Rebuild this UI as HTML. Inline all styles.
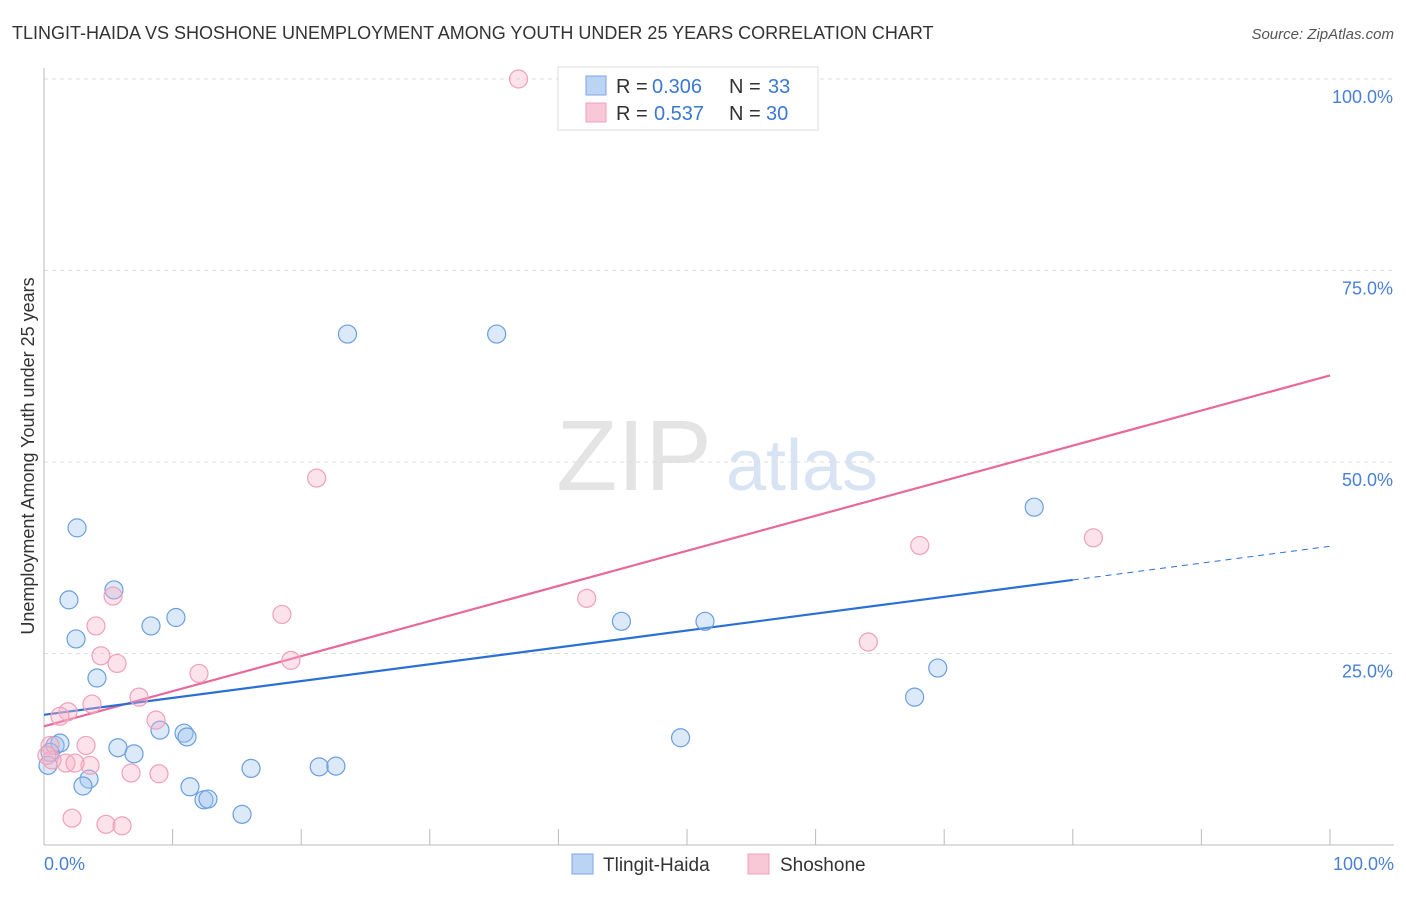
<!DOCTYPE html>
<html><head><meta charset="utf-8"><style>
body{margin:0;background:#fff;font-family:"Liberation Sans",sans-serif}
svg text{font-family:"Liberation Sans",sans-serif}
</style></head><body>
<svg id="chart" width="1406" height="892" viewBox="0 0 1406 892" xmlns="http://www.w3.org/2000/svg">
<text x="12" y="39" font-size="18" fill="#333">TLINGIT-HAIDA VS SHOSHONE UNEMPLOYMENT AMONG YOUTH UNDER 25 YEARS CORRELATION CHART</text>
<text x="1394" y="39" font-size="15" fill="#555" text-anchor="end" font-style="italic">Source: ZipAtlas.com</text>
<g>
<text x="634" y="490" font-size="100" fill="#e4e4e4" text-anchor="middle" font-family="Liberation Serif, serif">ZIP</text>
<text x="802" y="490" font-size="72" fill="#d8e4f4" text-anchor="middle">atlas</text>
</g>
<g id="grid"></g>
<g id="axes"></g>
<g id="trend"></g>
<g id="points"></g>
<text transform="translate(34,456) rotate(-90)" font-size="18" fill="#333" text-anchor="middle">Unemployment Among Youth under 25 years</text>
<text x="44" y="870" font-size="18" fill="#4a7fd6">0.0%</text>
<text x="1394" y="870" font-size="18" fill="#4a7fd6" text-anchor="end">100.0%</text>
<g>
<rect x="558" y="67" width="260" height="63" fill="#fff" stroke="#ddd"/>
<rect x="586" y="76" width="20" height="19" fill="#bcd4f4" stroke="#7aa6e0"/>
<rect x="586" y="103" width="20" height="19" fill="#f9c8d6" stroke="#f0a0b8"/>
<text x="616" y="93" font-size="20" fill="#333">R =</text>
<text x="652" y="93" font-size="20" fill="#3a78d4">0.306</text>
<text x="729" y="93" font-size="20" fill="#333">N =</text>
<text x="768" y="93" font-size="20" fill="#3a78d4">33</text>
<text x="616" y="120" font-size="20" fill="#333">R =</text>
<text x="654" y="120" font-size="20" fill="#3a78d4">0.537</text>
<text x="729" y="120" font-size="20" fill="#333">N =</text>
<text x="766" y="120" font-size="20" fill="#3a78d4">30</text>
</g>
<g>
<rect x="572" y="854" width="21" height="20" fill="#bcd4f4" stroke="#7aa6e0"/>
<text x="603" y="871" font-size="19" fill="#333">Tlingit-Haida</text>
<rect x="748" y="854" width="21" height="20" fill="#f9c8d6" stroke="#f0a0b8"/>
<text x="780" y="871" font-size="19" fill="#333">Shoshone</text>
</g>
</svg>
<script>
const yTicks=[25,50,75,100];
const yTickLabels=["25.0%","50.0%","75.0%","100.0%"];
const blueX=[2.57,1.94,5.44,8.32,10.26,2.49,4.12,5.75,7.0,9.02,10.89,11.12,3.5,3.03,11.35,12.44,12.75,15.4,16.1,21.4,22.7,23.6,35.2,44.9,51.4,49.5,67.7,69.5,77.0,0.86,1.24,0.47,0.31];
const blueY=[41.4,32.0,33.3,28.6,29.7,26.9,21.8,12.7,11.9,15.0,14.6,14.1,8.6,7.7,7.6,5.9,6.0,4.0,10.0,10.2,10.3,66.7,66.7,29.2,29.2,14.0,19.3,23.1,44.1,13.0,13.3,12.1,10.4];
const pinkX=[36.9,21.2,5.37,4.04,18.5,4.43,5.68,12.05,19.2,7.39,3.73,1.87,1.24,8.71,3.27,3.58,1.71,2.41,6.77,8.94,2.18,4.82,6.07,42.2,64.1,68.1,81.6,0.47,0.62,0.23];
const pinkY=[100,47.9,32.5,28.6,30.1,24.7,23.7,22.4,24.1,19.3,18.4,17.4,16.8,16.3,13.0,10.4,10.7,10.7,9.4,9.3,3.5,2.7,2.5,32.2,26.5,39.1,40.1,13.0,11.1,11.7];
const blueTrend=[17.0,39.0];
const blueSolidEnd=80;
const pinkTrend=[15.5,61.3];
const xTicks=[10,20,30,40,50,60,70,80,90,100];
const NS="http://www.w3.org/2000/svg";
function sx(v){return 44+v*12.86;}
function sy(v){return 845-v*7.66;}
function mk(tag,attrs,parent){const e=document.createElementNS(NS,tag);for(const k in attrs)e.setAttribute(k,attrs[k]);document.getElementById(parent).appendChild(e);return e;}
yTicks.forEach((t,i)=>{
 let l=mk('line',{x1:44,x2:1394,y1:sy(t),y2:sy(t),stroke:'#ddd','stroke-dasharray':'4,4'},'grid');
 
 
 let tx=mk('text',{x:1393,y:sy(t)+24,'font-size':18,fill:'#4a7fd6','text-anchor':'end'},'grid');
 tx.textContent=yTickLabels[i];
 
 
});
let ax=mk('line',{x1:44,x2:44,y1:68,y2:845,stroke:'#bbb'},'axes');


let bx=mk('line',{x1:44,x2:1394,y1:845,y2:845,stroke:'#bbb'},'axes');


xTicks.forEach(t=>{
 let l=mk('line',{x1:sx(t),x2:sx(t),y1:829,y2:845,stroke:'#bbb'},'axes');
 
 
});
function ty(tr,x){return tr[0]+(tr[1]-tr[0])*x/100;}
let pl=mk('line',{x1:sx(0),y1:sy(ty(pinkTrend,0)),x2:sx(100),y2:sy(ty(pinkTrend,100)),stroke:'#e8689a','stroke-width':2.2},'trend');


let bl=mk('line',{x1:sx(0),y1:sy(ty(blueTrend,0)),x2:sx(blueSolidEnd),y2:sy(ty(blueTrend,blueSolidEnd)),stroke:'#2a6fd6','stroke-width':2.2},'trend');


let bd=mk('line',{x1:sx(blueSolidEnd),y1:sy(ty(blueTrend,blueSolidEnd)),x2:sx(100),y2:sy(ty(blueTrend,100)),stroke:'#2a6fd6','stroke-width':1,'stroke-dasharray':'6,5'},'trend');


blueX.forEach((x,i)=>{
 let c=mk('circle',{cx:sx(x),cy:sy(blueY[i]),r:9,fill:'rgba(160,196,240,0.38)',stroke:'#6a9fe0','stroke-width':1.2},'points');
 
 
});
pinkX.forEach((x,i)=>{
 let c=mk('circle',{cx:sx(x),cy:sy(pinkY[i]),r:9,fill:'rgba(248,180,200,0.38)',stroke:'#f0a0b8','stroke-width':1.2},'points');
 
 
});
</script>
</body></html>
